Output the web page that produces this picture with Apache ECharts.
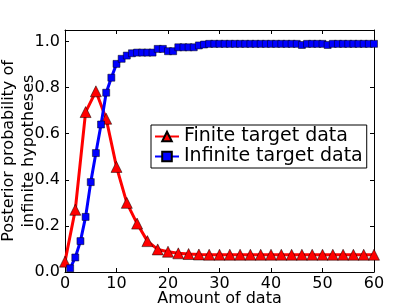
<!DOCTYPE html>
<html>
<head>
<meta charset="utf-8">
<script src="https://cdn.jsdelivr.net/npm/echarts@6/dist/echarts.min.js"></script>
<style>html,body{margin:0;padding:0;background:#fff}#c{width:415px;height:307px}</style>
</head>
<body>
<div id="c"></div>
<script>
var xTicks = [0, 10, 20, 30, 40, 50, 60];
var yTicks = [0.0, 0.2, 0.4, 0.6, 0.8, 1.0];
var finiteX = [0,2,4,6,8,10,12,14,16,18,20,22,24,26,28,30,32,34,36,38,40,42,44,46,48,50,52,54,56,58,60];
var finiteY = [0.045,0.27,0.694,0.784,0.665,0.456,0.30,0.21,0.134,0.098,0.088,0.081,0.078,0.076,0.075,0.075,0.075,0.075,0.075,0.075,0.075,0.075,0.075,0.075,0.075,0.075,0.075,0.075,0.075,0.075,0.075];
var infiniteX = [1,2,3,4,5,6,7,8,9,10,11,12,13,14,15,16,17,18,19,20,21,22,23,24,25,26,27,28,29,30,31,32,33,34,35,36,37,38,39,40,41,42,43,44,45,46,47,48,49,50,51,52,53,54,55,56,57,58,59,60];
var infiniteY = [0.016,0.063,0.134,0.239,0.39,0.516,0.64,0.778,0.843,0.903,0.925,0.939,0.949,0.952,0.952,0.952,0.952,0.968,0.968,0.958,0.958,0.975,0.975,0.975,0.975,0.983,0.987,0.99,0.99,0.99,0.99,0.99,0.99,0.99,0.99,0.99,0.99,0.99,0.99,0.99,0.99,0.99,0.99,0.99,0.99,0.985,0.99,0.99,0.99,0.99,0.985,0.99,0.99,0.99,0.99,0.99,0.99,0.99,0.99,0.99];
var seriesNames = ['Finite target data', 'Infinite target data'];
var xName = 'Amount of data';
var yName = 'Posterior probability of\ninfinite hypotheses';

function pairs(xs, ys) { return xs.map(function (x, i) { return [x, ys[i]]; }); }

var FONT = 'DejaVu Sans';
var chart = echarts.init(document.getElementById('c'), null, {renderer: 'canvas'});
var xCommon = {
  type: 'value', min: xTicks[0], max: xTicks[xTicks.length - 1], interval: xTicks[1] - xTicks[0],
  splitLine: {show: false},
  axisLine: {show: true, onZero: false, lineStyle: {color: '#000', width: 1}},
  axisTick: {show: true, inside: true, length: 4, lineStyle: {color: '#000'}}
};
var yCommon = {
  type: 'value', min: 0, max: 1.05, interval: 0.2,
  splitLine: {show: false},
  axisLine: {show: true, onZero: false, lineStyle: {color: '#000', width: 1}},
  axisTick: {show: true, inside: true, length: 4, lineStyle: {color: '#000'}}
};
chart.setOption({
  animation: false,
  backgroundColor: '#fff',
  grid: {left: 65, right: 41, top: 30, bottom: 35, containLabel: false, outerBoundsMode: 'none'},
  legend: {
    orient: 'vertical', left: 151, top: 125,
    data: seriesNames,
    borderColor: '#000', borderWidth: 1, borderRadius: 0,
    padding: [2, 4, 2, 3], itemGap: 1, itemWidth: 24, itemHeight: 12,
    textStyle: {fontFamily: FONT, fontSize: 19, color: '#000'}
  },
  xAxis: [
    Object.assign({}, xCommon, {
      position: 'bottom', name: xName, nameLocation: 'middle', nameGap: 19, nameMoveOverlap: false,
      nameTextStyle: {fontFamily: FONT, fontSize: 16, color: '#000'},
      axisLabel: {fontFamily: FONT, fontSize: 16, color: '#000', margin: 4}
    }),
    Object.assign({}, xCommon, {position: 'top', axisLabel: {show: false}})
  ],
  yAxis: [
    Object.assign({}, yCommon, {
      position: 'left', name: yName, nameLocation: 'middle', nameGap: 26, nameRotate: 90, nameMoveOverlap: false,
      nameTextStyle: {fontFamily: FONT, fontSize: 16, color: '#000', lineHeight: 20, align: 'center'},
      axisLabel: {fontFamily: FONT, fontSize: 16, color: '#000', margin: 5, showMaxLabel: false,
        formatter: function (v) { return yTicks.indexOf(Math.round(v * 10) / 10) >= 0 && Math.abs(v * 5 - Math.round(v * 5)) < 1e-6 ? v.toFixed(1) : ''; }}
    }),
    Object.assign({}, yCommon, {position: 'right', axisLabel: {show: false}})
  ],
  series: [
    {
      name: seriesNames[0], type: 'line', xAxisIndex: 0, yAxisIndex: 0,
      data: pairs(finiteX, finiteY),
      symbol: 'triangle', symbolSize: 11, showAllSymbol: true, clip: true,
      lineStyle: {color: '#ff0000', width: 3},
      itemStyle: {color: '#ff0000', borderColor: '#000', borderWidth: 0.5},
      z: 2
    },
    {
      name: seriesNames[1], type: 'line', xAxisIndex: 0, yAxisIndex: 0,
      data: pairs(infiniteX, infiniteY),
      symbol: 'rect', symbolSize: 7, showAllSymbol: true, clip: true,
      lineStyle: {color: '#0000ff', width: 3},
      itemStyle: {color: '#0000ff', borderColor: '#000', borderWidth: 0.5},
      z: 3
    }
  ]
});
</script>
</body>
</html>
